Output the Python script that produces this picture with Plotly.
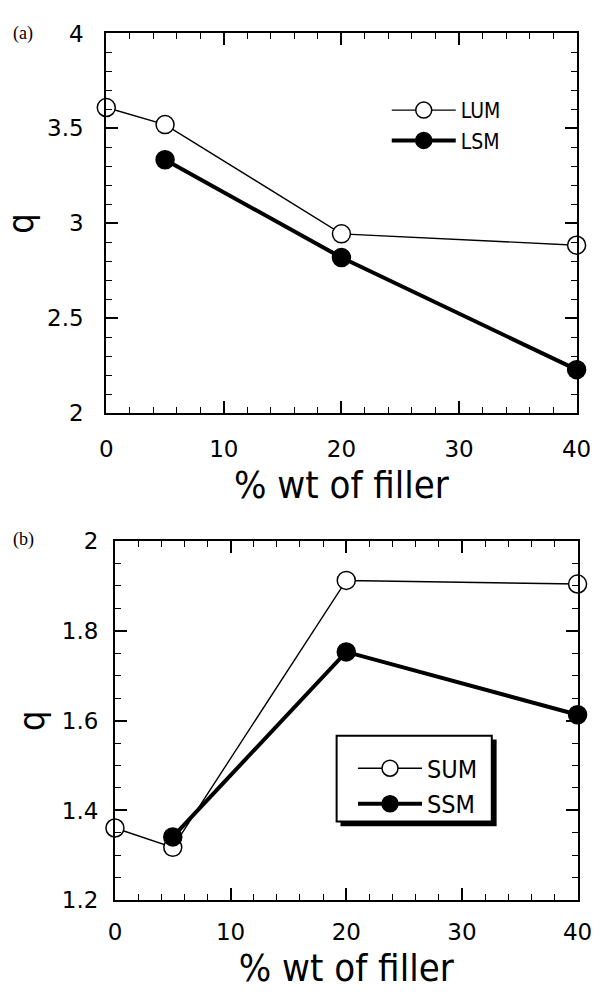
import plotly.graph_objects as go

# Panel (a)
x_a = [0, 5, 20, 40]
lum = [3.61, 3.52, 2.945, 2.885]
x_lsm = [5, 20, 40]
lsm = [3.335, 2.82, 2.23]

# Panel (b)
x_b = [0, 5, 20, 40]
sum_ = [1.361, 1.318, 1.912, 1.904]
x_ssm = [5, 20, 40]
ssm = [1.341, 1.753, 1.613]

xticks = [0, 10, 20, 30, 40]
yticks_a = [2, 2.5, 3, 3.5, 4]
yticks_b = [1.2, 1.4, 1.6, 1.8, 2]

TICKFONT = "DejaVu Sans"
TITLEFONT = "DejaVu Sans Condensed"
W, H = 608, 1000

def px(x):
    return x / W

def py(y):
    return 1 - y / H

fig = go.Figure()

open_marker = dict(symbol="circle", size=18, color="white", line=dict(color="black", width=1.5))
fill_marker = dict(symbol="circle", size=18, color="black", line=dict(color="black", width=1.5))

fig.add_trace(go.Scatter(x=x_a, y=lum, name="LUM", mode="lines+markers",
                         line=dict(color="black", width=1.4), marker=open_marker,
                         xaxis="x", yaxis="y", legend="legend", cliponaxis=False))
fig.add_trace(go.Scatter(x=x_lsm, y=lsm, name="LSM", mode="lines+markers",
                         line=dict(color="black", width=4), marker=fill_marker,
                         xaxis="x", yaxis="y", legend="legend", cliponaxis=False))
fig.add_trace(go.Scatter(x=x_b, y=sum_, name="SUM", mode="lines+markers",
                         line=dict(color="black", width=1.4), marker=open_marker,
                         xaxis="x2", yaxis="y2", legend="legend2", cliponaxis=False))
fig.add_trace(go.Scatter(x=x_ssm, y=ssm, name="SSM", mode="lines+markers",
                         line=dict(color="black", width=4), marker=fill_marker,
                         xaxis="x2", yaxis="y2", legend="legend2", cliponaxis=False))

common = dict(showline=True, linecolor="black", linewidth=2, mirror="ticks",
              ticks="inside", ticklen=12, tickwidth=1.5, tickcolor="black",
              showgrid=False, zeroline=False,
              tickfont=dict(family=TICKFONT, size=23, color="black"))

minor_x = dict(dtick=2, ticks="inside", ticklen=6, tickcolor="black", tickwidth=1.2)

fig.update_layout(
    width=W, height=H,
    margin=dict(l=0, r=0, t=0, b=0),
    paper_bgcolor="white", plot_bgcolor="white",
    showlegend=True,
    xaxis=dict(domain=[px(103), px(591)], range=[0, 40], tickvals=xticks,
               anchor="y", minor=minor_x, ticklabelstandoff=14,
               title=dict(text="% wt of filler", font=dict(family=TITLEFONT, size=38, color="black"), standoff=10),
               **common),
    yaxis=dict(domain=[py(411), py(21)], range=[2, 4], tickvals=yticks_a,
               ticktext=["2", "2.5", "3", "3.5", "4"], anchor="x",
               minor=dict(dtick=0.1, ticks="inside", ticklen=6, tickcolor="black", tickwidth=1.2),
               ticklabelstandoff=16,
               title=dict(text="q", font=dict(family=TITLEFONT, size=36, color="black"), standoff=2),
               **common),
    xaxis2=dict(domain=[px(112), px(592)], range=[0, 40], tickvals=xticks,
                anchor="y2", minor=minor_x, ticklabelstandoff=10,
                title=dict(text="% wt of filler", font=dict(family=TITLEFONT, size=38, color="black"), standoff=10),
                **common),
    yaxis2=dict(domain=[py(911), py(542)], range=[1.2, 2], tickvals=yticks_b,
                ticktext=["1.2", "1.4", "1.6", "1.8", "2"], anchor="x2",
                minor=dict(dtick=0.05, ticks="inside", ticklen=6, tickcolor="black", tickwidth=1.2),
                ticklabelstandoff=10,
                title=dict(text="q", font=dict(family=TITLEFONT, size=36, color="black"), standoff=6),
                **common),
    legend=dict(x=px(394), y=py(79), xanchor="left", yanchor="top",
                bgcolor="rgba(0,0,0,0)", borderwidth=0,
                font=dict(family=TITLEFONT, size=21, color="black"),
                itemwidth=64, tracegroupgap=0),
    legend2=dict(x=px(359), y=py(752), xanchor="left", yanchor="top",
                 bgcolor="rgba(0,0,0,0)", borderwidth=0,
                 font=dict(family=TITLEFONT, size=25, color="black"),
                 itemwidth=64, tracegroupgap=0),
    shapes=[
        # shadow of legend box (b)
        dict(type="rect", xref="paper", yref="paper", layer="above",
             x0=px(346), x1=px(508), y0=py(835), y1=py(746),
             fillcolor="black", line=dict(width=0)),
        # legend box (b)
        dict(type="rect", xref="paper", yref="paper", layer="above",
             x0=px(342), x1=px(503), y0=py(830), y1=py(742),
             fillcolor="white", line=dict(color="black", width=2)),
    ],
    annotations=[
        dict(text="(a)", x=px(4), y=py(21), xref="paper", yref="paper",
             xanchor="left", yanchor="middle", showarrow=False,
             font=dict(family="Liberation Serif", size=18, color="black")),
        dict(text="(b)", x=px(4), y=py(541), xref="paper", yref="paper",
             xanchor="left", yanchor="middle", showarrow=False,
             font=dict(family="Liberation Serif", size=18, color="black")),
    ],
)

fig.write_html("out.html")
